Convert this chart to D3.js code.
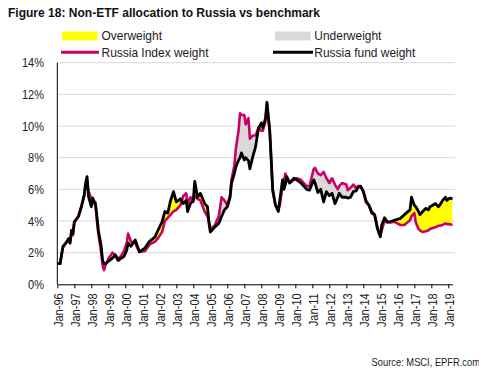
<!DOCTYPE html>
<html><head><meta charset="utf-8">
<script src="https://cdn.jsdelivr.net/npm/d3@7"></script>
<style>body{margin:0;background:#fff}svg{display:block;font-family:"Liberation Sans",Arial,sans-serif}</style>
</head><body><svg id="c" width="479" height="368"></svg>
<script>
const dates = ["1996-01","1996-03","1996-05","1996-07","1996-09","1996-10","1996-11","1996-12",
"1997-01","1997-04","1997-06","1997-08","1997-09","1997-10","1997-11",
"1998-01","1998-02","1998-04","1998-05","1998-06","1998-08","1998-09","1998-10","1998-11",
"1999-01","1999-04","1999-06","1999-08","1999-10","1999-12",
"2000-02","2000-03","2000-05","2000-08","2000-10","2000-11",
"2001-03","2001-06","2001-10","2001-12",
"2002-03","2002-05","2002-07","2002-09","2002-11",
"2003-01","2003-04","2003-06","2003-08","2003-09","2003-11",
"2004-01","2004-02","2004-04","2004-06","2004-09","2004-11","2004-12",
"2005-01","2005-04","2005-07","2005-09","2005-11",
"2006-01","2006-03","2006-04","2006-06","2006-07","2006-09","2006-10","2006-11",
"2007-01","2007-02","2007-04","2007-05","2007-07","2007-09","2007-11",
"2008-01","2008-02","2008-04","2008-05","2008-06","2008-07","2008-08","2008-09","2008-11",
"2009-01","2009-02","2009-04","2009-05","2009-06","2009-07","2009-09","2009-12",
"2010-02","2010-05","2010-07","2010-09","2010-11",
"2011-02","2011-03","2011-05","2011-07","2011-09","2011-11",
"2012-01","2012-03","2012-05","2012-07","2012-08","2012-10",
"2013-01","2013-02","2013-04","2013-06","2013-08","2013-09","2013-11",
"2014-01","2014-03","2014-05","2014-07","2014-09","2014-11",
"2015-01","2015-02","2015-04","2015-06","2015-08","2015-11",
"2016-03","2016-06","2016-10","2016-11",
"2017-01","2017-02","2017-04","2017-05","2017-07","2017-09","2017-11","2017-12",
"2018-02","2018-04","2018-06","2018-07","2018-09","2018-11","2018-12",
"2019-02","2019-04"];
const fundWeight = [1.3,1.3,2.4,2.6,2.9,2.6,3.4,3.2,
3.95,4.3,4.9,5.65,6.4,6.8,5.55,
4.9,5.45,5.0,4.3,3.4,2.4,1.5,1.3,1.3,
1.45,1.65,1.85,1.5,1.65,1.75,
2.15,2.6,2.4,2.8,2.3,2.05,
2.3,2.7,3.0,3.4,
3.95,4.6,4.5,5.3,5.85,
5.2,5.4,5.1,5.3,4.6,5.1,
5.3,6.5,5.5,5.75,5.1,4.9,3.9,
3.3,3.6,3.85,4.3,4.7,
4.9,5.5,6.4,7.0,7.4,7.85,8.0,8.3,
7.85,8.0,7.8,7.3,8.05,8.7,9.85,
10.2,9.9,10.5,11.5,10.6,9.7,7.9,6.0,5.0,
4.6,5.3,6.6,6.0,6.3,6.8,6.4,6.7,
6.6,6.4,6.2,6.0,5.95,
6.6,6.4,5.8,6.0,5.2,5.85,
5.6,5.75,5.1,5.5,5.75,5.5,
5.5,5.45,5.5,5.85,5.9,6.1,6.2,
5.85,5.2,5.0,4.5,4.4,3.5,
3.0,3.75,4.2,3.95,3.95,4.05,
4.15,4.4,4.7,5.5,
5.0,4.9,4.6,4.4,4.6,4.8,4.7,4.9,
5.0,5.1,4.9,5.0,5.3,5.5,5.3,
5.45,5.4];
const indexWeight = [1.3,1.3,2.3,2.6,2.8,2.6,3.3,3.1,
3.9,4.3,4.9,5.6,6.3,6.6,5.9,
5.4,5.2,5.2,4.0,3.2,2.0,1.2,0.9,1.2,
1.6,2.0,1.85,1.6,1.8,2.1,
2.6,3.2,2.7,2.6,2.2,2.05,
2.1,2.5,2.7,2.9,
3.3,4.0,4.2,4.4,4.6,
4.7,5.0,5.6,5.75,5.1,5.5,
5.2,5.6,5.4,5.3,4.6,4.3,4.0,
3.5,3.7,4.3,5.5,5.3,
5.0,5.6,6.6,7.5,8.5,9.75,10.8,10.7,
10.7,10.1,10.5,9.2,9.4,9.4,9.9,
9.7,9.7,10.3,11.4,10.5,9.6,7.8,5.9,5.0,
4.7,5.0,6.2,6.5,7.0,6.7,6.4,6.6,
6.7,6.6,6.4,6.2,6.2,
7.3,7.35,7.0,6.9,7.1,6.7,
6.4,6.7,6.3,6.0,6.2,6.4,
6.3,5.95,6.1,6.3,6.05,6.2,6.2,
5.9,5.3,5.0,4.6,4.4,3.6,
3.1,3.4,4.0,3.9,3.9,3.95,
3.75,3.75,4.05,4.3,
4.5,3.9,3.5,3.4,3.3,3.35,3.4,3.5,
3.55,3.6,3.7,3.7,3.75,3.85,3.8,
3.8,3.75];
const yTickValues = [0,2,4,6,8,10,12,14];
const legendLabels = ["Overweight","Underweight","Russia Index weight","Russia fund weight"];
const titleText = "Figure 18: Non-ETF allocation to Russia vs benchmark";
const sourceText = "Source: MSCI, EPFR.com";

const parse = d3.timeParse("%Y-%m");
const data = dates.map((d,i)=>({date:parse(d), f:fundWeight[i], idx:indexWeight[i]}));

const svg = d3.select("#c");
const x = d3.scaleTime().domain([new Date(1996,0,1), new Date(2019,3,1)]).range([57.3,452.5]);
const y = d3.scaleLinear().domain([0,14]).range([284.3,62.7]);
const x0 = 57.3, x1 = 455, yb = 284.3, yt = 62.7;

// title
svg.append("text").attr("x",8).attr("y",17).attr("font-weight","bold").attr("font-size",13)
  .attr("textLength",312).attr("lengthAdjust","spacingAndGlyphs").attr("fill","#111").text(titleText);

// gridlines
svg.append("g").selectAll("line").data(yTickValues.filter(v=>v>0)).join("line")
  .attr("x1",x0).attr("x2",x1).attr("y1",d=>y(d)).attr("y2",d=>y(d))
  .attr("stroke","#d9d9d9").attr("stroke-width",1);

// difference areas
const defs = svg.append("defs");
defs.append("clipPath").attr("id","aboveIndex").append("path").datum(data)
  .attr("d", d3.area().x(d=>x(d.date)).y0(0).y1(d=>y(d.idx)));
defs.append("clipPath").attr("id","aboveFund").append("path").datum(data)
  .attr("d", d3.area().x(d=>x(d.date)).y0(0).y1(d=>y(d.f)));
svg.append("path").datum(data).attr("clip-path","url(#aboveIndex)")
  .attr("d", d3.area().x(d=>x(d.date)).y0(yb).y1(d=>y(d.f))).attr("fill","#ffff00");
svg.append("path").datum(data).attr("clip-path","url(#aboveFund)")
  .attr("d", d3.area().x(d=>x(d.date)).y0(yb).y1(d=>y(d.idx))).attr("fill","#d9d9d9");

// lines
svg.append("path").datum(data).attr("fill","none").attr("stroke","#cc0066").attr("stroke-width",2.6)
  .attr("stroke-linejoin","round").attr("d", d3.line().x(d=>x(d.date)).y(d=>y(d.idx)));
svg.append("path").datum(data).attr("fill","none").attr("stroke","#000").attr("stroke-width",2.8)
  .attr("stroke-linejoin","round").attr("d", d3.line().x(d=>x(d.date)).y(d=>y(d.f)));

// y axis
svg.append("line").attr("x1",x0).attr("x2",x0).attr("y1",yt).attr("y2",yb).attr("stroke","#000");
const yl = svg.append("g").selectAll("g").data(yTickValues).join("g")
  .attr("transform",d=>`translate(44,${y(d)})`);
yl.append("text").attr("transform","scale(0.85,1)").attr("text-anchor","end").attr("dy","0.36em")
  .attr("font-size",13).attr("fill","#222").text(d=>d+"%");

// x axis
const xa = svg.append("g").attr("transform",`translate(0,${yb})`)
  .call(d3.axisBottom(x).ticks(d3.timeYear.every(1)).tickSize(4).tickSizeOuter(0).tickFormat(d3.timeFormat("Jan-%y")));
xa.select(".domain").attr("stroke","#000");
xa.selectAll(".tick line").attr("stroke","#000");
xa.selectAll(".tick text").attr("y",0).attr("dy",null).attr("x",0)
  .attr("transform","translate(5,9) rotate(-90) scale(0.85,1)").attr("text-anchor","end")
  .attr("font-size",13).attr("font-family","Liberation Sans, Arial, sans-serif").attr("fill","#222");

// legend
const lg = svg.append("g").attr("font-size",13).attr("fill","#222");
lg.append("rect").attr("x",62).attr("y",31.5).attr("width",35.5).attr("height",9).attr("fill","#ffff00");
lg.append("rect").attr("x",275).attr("y",31.5).attr("width",35.5).attr("height",9).attr("fill","#d9d9d9");
lg.append("line").attr("x1",61).attr("x2",99).attr("y1",52.3).attr("y2",52.3).attr("stroke","#cc0066").attr("stroke-width",3);
lg.append("line").attr("x1",273).attr("x2",313).attr("y1",52.3).attr("y2",52.3).attr("stroke","#000").attr("stroke-width",3);
const lpos = [[101.5,40],[314.3,40],[101.5,57.3],[314.3,57.3]];
legendLabels.forEach((t,i)=>{
  lg.append("text").attr("transform",`translate(${lpos[i][0]},${lpos[i][1]}) scale(0.92,1)`).text(t);
});

// source
svg.append("text").attr("transform","translate(480,366) scale(0.85,1)").attr("text-anchor","end")
  .attr("font-size",11).attr("fill","#222").text(sourceText);
</script></body></html>
